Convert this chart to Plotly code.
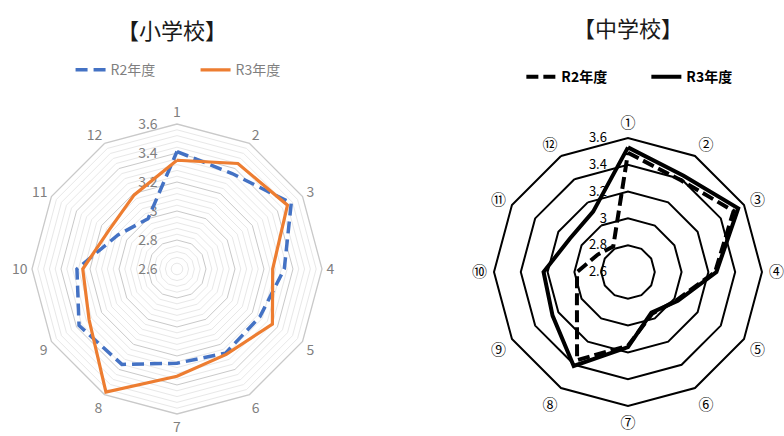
import numpy as np
import plotly.graph_objects as go

# ---- data -------------------------------------------------------------
categories = [str(i) for i in range(1, 13)]
circled = ["①", "②", "③", "④", "⑤", "⑥", "⑦", "⑧", "⑨", "⑩", "⑪", "⑫"]

elem_r2 = [3.41, 3.36, 3.51, 3.34, 3.26, 3.27, 3.25, 3.36, 3.38, 3.29, 3.07, 3.00]
elem_r3 = [3.35, 3.44, 3.48, 3.26, 3.36, 3.28, 3.34, 3.58, 3.30, 3.25, 3.14, 3.19]

jhs_r2 = [3.49, 3.39, 3.51, 3.25, 3.02, 2.96, 3.15, 3.36, 3.04, 2.98, 2.86, 2.82]
jhs_r3 = [3.53, 3.43, 3.55, 3.26, 3.03, 2.95, 3.16, 3.41, 3.25, 3.23, 3.10, 3.12]

major_ticks = [2.6, 2.8, 3.0, 3.2, 3.4, 3.6]
major_labels = ["2.6", "2.8", "3", "3.2", "3.4", "3.6"]
minor_step = 0.04
r_range = [2.6, 3.6]

series_names = ["R2年度", "R3年度"]

# ---- helpers ----------------------------------------------------------
def closed(seq):
    return list(seq) + [seq[0]]

minor_ticks = [round(v, 2) for v in np.arange(r_range[0] + minor_step, r_range[1], minor_step)
               if all(abs(v - m) > 1e-6 for m in major_ticks)]

JP = "Noto Sans CJK JP"
GREY_TXT = "#7f7f7f"
CLEAR = "rgba(0,0,0,0)"

fig = go.Figure()

# left: faint minor rings (drawn underneath)
fig.add_trace(go.Scatterpolar(
    r=closed(elem_r2), theta=closed(categories), mode="lines",
    line=dict(width=0, color=CLEAR), showlegend=False,
    hoverinfo="skip", subplot="polar"))

# left: elementary school series
fig.add_trace(go.Scatterpolar(
    r=closed(elem_r2), theta=closed(categories), mode="lines", name=series_names[0],
    line=dict(color="#4472C4", width=3.5, dash="12px,6px"),
    subplot="polar2", legend="legend", hoverinfo="skip"))
fig.add_trace(go.Scatterpolar(
    r=closed(elem_r3), theta=closed(categories), mode="lines", name=series_names[1],
    line=dict(color="#ED7D31", width=3.2),
    subplot="polar2", legend="legend", hoverinfo="skip"))

# right: junior high school series
fig.add_trace(go.Scatterpolar(
    r=closed(jhs_r2), theta=closed(circled), mode="lines", name=series_names[0],
    line=dict(color="black", width=4, dash="12px,5px"),
    subplot="polar3", legend="legend2", hoverinfo="skip"))
fig.add_trace(go.Scatterpolar(
    r=closed(jhs_r3), theta=closed(circled), mode="lines", name=series_names[1],
    line=dict(color="black", width=4),
    subplot="polar3", legend="legend2", hoverinfo="skip"))

left_domain = dict(x=[0.0408, 0.4107], y=[0.0505, 0.7156])
right_domain = dict(x=[0.6301, 0.9719], y=[0.0688, 0.6835])

common_ang = dict(direction="clockwise", rotation=90, ticks="outside", tickcolor=CLEAR)

fig.update_layout(
    width=784, height=436,
    margin=dict(l=0, r=0, t=0, b=0),
    paper_bgcolor="white",
    plot_bgcolor="white",
    polar=dict(
        domain=left_domain, gridshape="linear", bgcolor="white",
        radialaxis=dict(range=r_range, tickmode="array", tickvals=minor_ticks,
                        showticklabels=False, ticks="", showline=False,
                        gridcolor="#e8e8e8", gridwidth=1),
        angularaxis=dict(**common_ang, categoryorder="array", categoryarray=categories,
                         showticklabels=False, showgrid=False, showline=False),
    ),
    polar2=dict(
        domain=left_domain, gridshape="linear", bgcolor=CLEAR,
        radialaxis=dict(range=r_range, tickmode="array", tickvals=major_ticks,
                        ticktext=major_labels, angle=90, tickangle=90,
                        side="counterclockwise", ticks="outside", ticklen=14,
                        tickcolor=CLEAR, showline=False,
                        layer="below traces",
                        gridcolor="#c9c9c9", gridwidth=1.3,
                        tickfont=dict(family=JP, size=14, color=GREY_TXT)),
        angularaxis=dict(**common_ang, ticklen=1,
                         categoryorder="array", categoryarray=categories,
                         showgrid=False, showline=True, linecolor="#c9c9c9", linewidth=1.3,
                         layer="below traces",
                         tickfont=dict(family=JP, size=14, color=GREY_TXT)),
    ),
    polar3=dict(
        domain=right_domain, gridshape="linear", bgcolor="white",
        radialaxis=dict(range=r_range, tickmode="array", tickvals=major_ticks,
                        ticktext=major_labels, angle=90, tickangle=90,
                        side="counterclockwise", ticks="outside", ticklen=16,
                        tickcolor=CLEAR, showline=False,
                        layer="below traces",
                        gridcolor="black", gridwidth=2,
                        tickfont=dict(family=JP, size=13, color="black")),
        angularaxis=dict(**common_ang, ticklen=3,
                         categoryorder="array", categoryarray=circled,
                         showgrid=False, showline=True, linecolor="black", linewidth=2,
                         layer="below traces",
                         tickfont=dict(family=JP, size=15, color="black")),
    ),
    legend=dict(orientation="h", x=0.09, y=0.839, xanchor="left", yanchor="middle",
                entrywidth=80,
                font=dict(family=JP, size=14, color=GREY_TXT), bgcolor=CLEAR,
                itemclick=False),
    legend2=dict(orientation="h", x=0.665, y=0.823, xanchor="left", yanchor="middle",
                 entrywidth=80,
                 font=dict(family=JP, size=14, color="black", weight="bold"),
                 bgcolor=CLEAR, itemclick=False),
    annotations=[
        dict(text="【小学校】", x=172 / 784, y=1 - 29 / 436, xref="paper", yref="paper",
             xanchor="center", yanchor="middle", showarrow=False,
             font=dict(family=JP, size=22, color="#1a1a1a")),
        dict(text="【中学校】", x=628 / 784, y=1 - 27 / 436, xref="paper", yref="paper",
             xanchor="center", yanchor="middle", showarrow=False,
             font=dict(family=JP, size=22, color="#1a1a1a")),
    ],
)

fig.write_html("out.html")
